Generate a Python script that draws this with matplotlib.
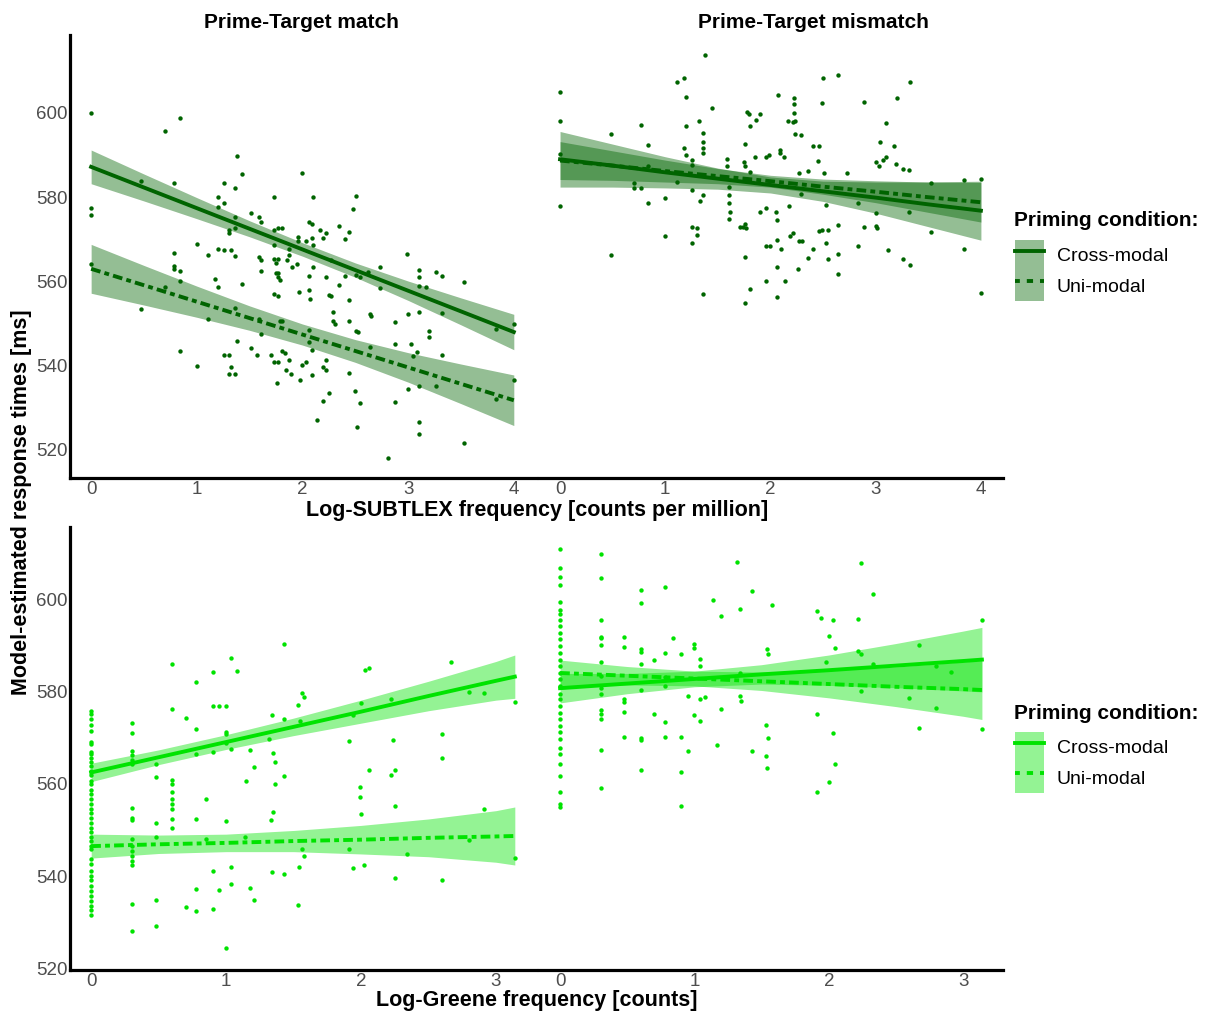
import matplotlib.pyplot as plt
from matplotlib.lines import Line2D
from matplotlib.patches import Patch

plt.rcParams["font.family"] = ["Liberation Sans", "DejaVu Sans"]
plt.rcParams["lines.scale_dashes"] = False

# ---- data ---------------------------------------------------------------
conditions = ["Cross-modal", "Uni-modal"]
titles = ["Prime-Target match", "Prime-Target mismatch"]

# SUBTLEX, prime-target match: (log freq, RT)
subtlex_match_pts = [
    (0, 600), (0, 577.5), (0, 575.7), (0, 564.2), (0.47, 583.8), (0.70, 595.6), (0.84, 598.9),
    (0.78, 583.3), (0.78, 566.8), (0.78, 563.6), (0.78, 562.9), (0.84, 562.4), (0.84, 560.2),
    (0.70, 558.8), (0.47, 553.5), (0.84, 543.4), (1.0, 569.0), (1.0, 540.0), (1.11, 566.2),
    (1.11, 551.0), (1.17, 560.6), (1.20, 558.8), (1.20, 580.0), (1.20, 577.7), (1.20, 567.8),
    (1.26, 583.3), (1.26, 578.6), (1.26, 567.4), (1.26, 542.6), (1.30, 542.6), (1.30, 572.1),
    (1.30, 571.6), (1.32, 567.4), (1.30, 538.0), (1.36, 538.0), (1.32, 539.7), (1.38, 589.8),
    (1.36, 582.2), (1.36, 575.3), (1.36, 572.7), (1.36, 566.1), (1.36, 553.8), (1.38, 545.8),
    (1.43, 585.6), (1.43, 559.3), (1.51, 576.2), (1.51, 544.2), (1.57, 542.6), (1.59, 575.4),
    (1.61, 574.1), (1.59, 565.7), (1.61, 565.2), (1.59, 551.0), (1.61, 547.5), (1.61, 562.6),
    (1.70, 542.6), (1.73, 580.0), (1.73, 572.1), (1.73, 568.6), (1.73, 565.4), (1.75, 564.5),
    (1.77, 565.4), (1.73, 557.0), (1.77, 556.6), (1.73, 541.0), (1.77, 541.0), (1.75, 562.0),
    (1.77, 562.0), (1.77, 561.0), (1.79, 560.4), (1.77, 572.7), (1.81, 572.7), (1.79, 550.7),
    (1.81, 550.7), (1.81, 543.4), (1.83, 543.1), (1.76, 535.8), (1.84, 539.0), (1.87, 541.4),
    (1.85, 565.1), (1.87, 566.2), (1.87, 567.8), (1.89, 538.1), (1.90, 563.4), (1.95, 564.2),
    (1.96, 570.5), (1.96, 569.6), (1.97, 557.5), (1.98, 536.6), (2.0, 585.8), (2.0, 540.2),
    (2.03, 540.8), (2.03, 569.7), (2.06, 574.1), (2.06, 561.2), (2.06, 557.9), (2.07, 555.9),
    (2.06, 548.4), (2.06, 545.7), (2.09, 573.7), (2.09, 570.4), (2.10, 568.6), (2.10, 580.0),
    (2.10, 563.4), (2.09, 543.8), (2.09, 537.7), (2.14, 527.2), (2.17, 572.3), (2.19, 570.3),
    (2.22, 571.6), (2.22, 561.0), (2.22, 541.4), (2.22, 539.0), (2.19, 539.6), (2.19, 531.7),
    (2.25, 556.9), (2.25, 533.5), (2.27, 556.5), (2.29, 552.7), (2.29, 550.7), (2.31, 550.0),
    (2.27, 565.0), (2.35, 573.2), (2.35, 559.2), (2.40, 570.0), (2.40, 561.2), (2.44, 571.7),
    (2.44, 555.5), (2.44, 550.7), (2.44, 538.2), (2.48, 577.3), (2.51, 580.4), (2.51, 561.5),
    (2.54, 561.1), (2.51, 548.3), (2.53, 547.9), (2.50, 534.1), (2.54, 531.1), (2.52, 525.4),
    (2.62, 562.2), (2.64, 552.3), (2.65, 551.9), (2.64, 544.4), (2.73, 563.4), (2.73, 558.5),
    (2.81, 518.1), (2.88, 550.3), (2.88, 545.2), (2.88, 531.3), (2.99, 566.6), (3.0, 552.3),
    (3.03, 545.2), (3.0, 534.4), (3.05, 542.4), (3.08, 543.2), (3.10, 562.8), (3.10, 561.0),
    (3.10, 559.0), (3.10, 552.7), (3.10, 535.3), (3.10, 526.6), (3.10, 523.8), (3.17, 558.8),
    (3.20, 548.3), (3.20, 546.7), (3.26, 562.2), (3.26, 535.3), (3.32, 561.4), (3.32, 552.5),
    (3.32, 542.6), (3.53, 559.8), (3.53, 521.7), (3.83, 548.8), (3.83, 532.1), (4.0, 549.8),
    (4.0, 536.6),
]

# SUBTLEX, prime-target mismatch
subtlex_mismatch_pts = [
    (0, 604.9), (0, 598.1), (0, 590.2), (0, 577.8), (0.48, 594.9), (0.48, 566.3), (0.77, 597.2),
    (0.70, 583.3), (0.70, 582.1), (0.77, 582.3), (0.84, 592.4), (0.84, 587.3), (0.84, 578.7),
    (1.0, 579.9), (1.0, 570.7), (1.11, 607.4), (1.18, 608.2), (1.20, 603.7), (1.18, 591.6),
    (1.20, 590.0), (1.25, 588.8), (1.25, 587.7), (1.11, 583.7), (1.20, 597.0), (1.25, 581.7),
    (1.25, 573.0), (1.25, 569.2), (1.30, 572.8), (1.30, 571.0), (1.32, 598.2), (1.33, 579.0),
    (1.36, 595.3), (1.36, 593.2), (1.36, 591.6), (1.36, 590.4), (1.36, 580.5), (1.36, 557.0),
    (1.38, 613.8), (1.44, 601.1), (1.59, 589.0), (1.59, 587.4), (1.61, 582.5), (1.61, 580.5),
    (1.61, 578.6), (1.62, 576.6), (1.61, 574.9), (1.71, 573.0), (1.74, 573.0), (1.76, 573.6),
    (1.77, 572.6), (1.75, 588.3), (1.76, 587.5), (1.76, 592.6), (1.76, 565.7), (1.76, 555.0),
    (1.78, 600.3), (1.80, 599.7), (1.81, 585.9), (1.81, 558.1), (1.81, 596.8), (1.85, 589.6),
    (1.86, 598.3), (1.90, 599.7), (1.90, 576.4), (1.96, 589.6), (1.99, 590.0), (1.96, 577.5),
    (1.96, 568.4), (2.0, 568.3), (1.96, 560.1), (2.05, 576.4), (2.06, 574.6), (2.06, 563.5),
    (2.06, 556.2), (2.06, 569.9), (2.07, 604.3), (2.09, 591.2), (2.09, 590.6), (2.10, 567.6),
    (2.13, 589.6), (2.14, 560.1), (2.17, 598.2), (2.21, 597.9), (2.18, 578.0), (2.22, 603.5),
    (2.22, 602.1), (2.22, 599.9), (2.23, 598.0), (2.23, 594.9), (2.29, 594.8), (2.21, 571.4),
    (2.19, 570.8), (2.27, 569.7), (2.30, 569.7), (2.26, 562.9), (2.27, 585.7), (2.29, 580.7),
    (2.36, 586.3), (2.36, 565.5), (2.40, 592.2), (2.46, 592.2), (2.40, 567.6), (2.45, 588.5),
    (2.46, 572.0), (2.49, 572.2), (2.55, 572.3), (2.49, 602.3), (2.50, 608.2), (2.51, 585.7),
    (2.53, 578.2), (2.53, 569.1), (2.55, 565.3), (2.64, 609.0), (2.64, 573.3), (2.64, 566.5),
    (2.64, 561.8), (2.73, 585.8), (2.83, 578.7), (2.83, 568.3), (2.89, 602.7), (2.89, 573.0),
    (3.0, 588.4), (3.03, 587.5), (3.07, 588.8), (3.0, 576.2), (3.0, 573.2), (3.01, 572.8),
    (3.04, 593.2), (3.10, 597.5), (3.10, 589.6), (3.12, 567.5), (3.17, 592.2), (3.19, 587.9),
    (3.20, 603.6), (3.26, 586.7), (3.32, 586.5), (3.26, 565.3), (3.32, 576.6), (3.33, 563.8),
    (3.33, 607.4), (3.53, 583.3), (3.53, 571.7), (3.84, 584.1), (3.84, 567.6), (4.0, 584.3),
    (4.0, 557.2),
]

# Greene, prime-target match: stacked columns at log10(1..4) plus loose points
greene_match_cols = {
    0.0: [575.8, 575.1, 574.0, 572.9, 571.6, 569.2, 568.7, 566.9, 566.4, 565.6, 564.7, 563.8,
          562.9, 561.9, 560.7, 560.0, 558.7, 557.8, 556.7, 555.6, 554.5, 553.8, 552.7, 551.6,
          550.5, 549.5, 548.5, 547.6, 546.5, 545.8, 543.6, 542.7, 541.1, 540.0, 539.1, 537.8,
          536.7, 535.6, 534.5, 533.5, 532.7, 531.6],
    0.301: [573.2, 571.1, 567.1, 566.2, 565.1, 564.4, 554.7, 552.7, 552.1, 548.0, 546.5, 545.5,
            544.4, 543.3, 542.5, 534.0, 528.0],
    0.477: [564.4, 561.5, 551.6, 548.4, 534.9, 529.2],
    0.602: [586.0, 576.2, 560.9, 560.0, 558.3, 556.7, 555.6, 554.5, 552.4, 550.5],
}
greene_match_pts = [
    (0.70, 574.4), (0.70, 533.3), (0.78, 582.2), (0.78, 572.0), (0.78, 566.4), (0.78, 552.4),
    (0.78, 537.1), (0.78, 532.4), (0.85, 556.7), (0.85, 548.0), (0.90, 584.4), (0.90, 577.0),
    (0.90, 566.9), (0.90, 541.0), (0.90, 532.9), (0.95, 577.0), (0.95, 536.9), (1.0, 577.0),
    (1.0, 571.3), (1.0, 570.8), (1.0, 568.9), (1.0, 552.0), (1.0, 524.4), (1.04, 587.3),
    (1.04, 567.5), (1.04, 542.0), (1.04, 538.2), (1.08, 584.5), (1.15, 560.7), (1.14, 548.4),
    (1.18, 567.3), (1.18, 537.3), (1.21, 563.6), (1.21, 534.8), (1.32, 569.8), (1.34, 574.9),
    (1.35, 566.7), (1.36, 564.7), (1.36, 559.9), (1.33, 552.1), (1.35, 554.0), (1.34, 540.9),
    (1.43, 590.3), (1.43, 574.2), (1.43, 561.7), (1.43, 540.5), (1.53, 577.2), (1.55, 573.6),
    (1.56, 579.8), (1.58, 578.9), (1.56, 545.8), (1.58, 544.4), (1.54, 542.0), (1.53, 533.7),
    (1.91, 569.4), (1.94, 574.9), (1.99, 559.4), (1.99, 557.1), (2.0, 577.5), (2.0, 553.5),
    (1.91, 545.8), (1.94, 541.7), (2.02, 542.5), (2.03, 584.7), (2.06, 585.2), (2.06, 563.1),
    (2.22, 578.5), (2.24, 569.5), (2.22, 562.0), (2.25, 563.1), (2.25, 555.3), (2.25, 539.5),
    (2.34, 544.7), (2.60, 570.9), (2.60, 565.6), (2.60, 539.1), (2.67, 586.5), (2.80, 580.0),
    (2.80, 547.9), (2.91, 579.8), (2.91, 554.5), (3.14, 577.7), (3.14, 544.0),
]

# Greene, prime-target mismatch
greene_mismatch_cols = {
    0.0: [611.0, 606.8, 605.0, 603.2, 599.6, 597.8, 596.8, 595.7, 594.2, 592.8, 591.4, 590.0,
          588.5, 587.0, 585.6, 584.1, 582.7, 581.3, 579.5, 578.4, 576.9, 575.5, 574.1, 572.6,
          571.2, 569.7, 567.9, 566.5, 564.3, 561.8, 558.2, 555.7, 555.0],
    0.301: [609.9, 604.7, 595.5, 591.9, 591.7, 590.1, 586.5, 583.4, 580.9, 579.5, 576.1, 575.3,
            574.1, 567.4, 559.1],
    0.477: [591.9, 589.7, 578.4, 577.8, 575.6, 570.2],
    0.602: [602.2, 599.3, 589.4, 588.7, 586.1, 580.5, 569.9, 569.6, 563.0],
}
greene_mismatch_pts = [
    (0.70, 587.0), (0.70, 575.1), (0.78, 602.7), (0.78, 588.5), (0.78, 583.3), (0.78, 581.3),
    (0.78, 573.5), (0.78, 570.1), (0.84, 591.7), (0.90, 588.3), (0.90, 570.1), (0.90, 562.7),
    (0.90, 555.3), (0.95, 579.1), (0.95, 567.1), (1.0, 590.5), (1.0, 589.5), (1.0, 574.9),
    (1.04, 587.2), (1.04, 585.7), (1.04, 578.5), (1.04, 573.7), (1.08, 578.9), (1.14, 600.0),
    (1.17, 568.4), (1.20, 596.4), (1.20, 576.2), (1.32, 608.1), (1.34, 598.1), (1.34, 584.1),
    (1.34, 579.1), (1.35, 578.0), (1.43, 602.0), (1.43, 567.1), (1.54, 589.3), (1.55, 588.3),
    (1.53, 572.8), (1.55, 569.9), (1.53, 566.1), (1.54, 563.4), (1.58, 598.8), (1.91, 597.6),
    (1.94, 596.0), (1.91, 575.1), (1.91, 558.2), (1.98, 586.5), (2.0, 592.2), (2.03, 595.5),
    (2.03, 571.0), (2.0, 560.5), (2.05, 589.5), (2.05, 564.3), (2.22, 595.8), (2.22, 588.8),
    (2.24, 588.3), (2.24, 607.9), (2.24, 580.2), (2.33, 601.2), (2.33, 586.0), (2.60, 578.7),
    (2.67, 590.1), (2.67, 572.1), (2.80, 576.6), (2.80, 585.7), (2.91, 584.3), (3.14, 595.5),
    (3.14, 572.0),
]

# fitted lines and confidence half-widths
subtlex_fit_x = [0, 0.5, 1, 1.5, 2, 2.5, 3, 3.5, 4]
greene_fit_x = [0, 0.5, 1, 1.5, 2, 2.5, 3, 3.14]

subtlex_match_fit = {
    "Cross-modal": ([587.2, 582.3, 577.4, 572.5, 567.6, 562.7, 557.8, 552.9, 548.0],
                    [4.0, 3.2, 2.5, 1.9, 1.6, 1.7, 2.3, 3.2, 4.2]),
    "Uni-modal": ([563.0, 559.1, 555.2, 551.3, 547.4, 543.5, 539.6, 535.7, 531.8],
                  [5.8, 4.7, 3.7, 2.9, 2.5, 2.7, 3.5, 4.7, 6.0]),
}
subtlex_mismatch_fit = {
    "Cross-modal": ([589.0, 587.5, 585.9, 584.4, 582.9, 581.4, 579.9, 578.3, 576.8],
                    [6.6, 5.1, 3.7, 2.5, 1.9, 2.4, 3.7, 5.3, 7.0]),
    "Uni-modal": ([588.7, 587.5, 586.2, 585.0, 583.8, 582.5, 581.3, 580.0, 578.8],
                  [4.5, 3.5, 2.6, 1.8, 1.4, 1.8, 2.6, 3.6, 4.7]),
}
greene_match_fit = {
    "Cross-modal": ([562.5, 565.8, 569.1, 572.4, 575.7, 579.1, 582.4, 583.3],
                    [2.0, 1.6, 1.6, 1.9, 2.5, 3.2, 4.2, 4.7]),
    "Uni-modal": ([546.5, 546.9, 547.2, 547.6, 547.9, 548.3, 548.6, 548.7],
                  [2.6, 2.0, 1.9, 2.3, 3.1, 4.1, 5.6, 6.3]),
}
greene_mismatch_fit = {
    "Cross-modal": ([580.8, 581.8, 582.8, 583.8, 584.7, 585.7, 586.7, 587.0],
                    [3.2, 2.2, 1.7, 2.1, 3.3, 4.8, 6.5, 7.0]),
    "Uni-modal": ([584.1, 583.5, 582.9, 582.3, 581.7, 581.1, 580.6, 580.4],
                  [2.8, 2.0, 1.6, 2.0, 3.0, 4.3, 5.9, 6.4]),
}

# ---- styling ---------------------------------------------------------------
DARK = "#006400"
BRIGHT = "#00E300"
RIBBON_ALPHA = 0.42
LINESTYLES = {"Cross-modal": "-", "Uni-modal": (0, (7, 3, 3.5, 3))}
LEGEND_STYLES = {"Cross-modal": "-", "Uni-modal": (1, (4.5, 5))}
LW = 2.8

W, H = 1219, 1013
fig = plt.figure(figsize=(W / 100, H / 100), dpi=100)


def box(l, t, r, b):
    return [l / W, 1 - b / H, (r - l) / W, (b - t) / H]


def flatten(cols, pts):
    xs, ys = [], []
    for x, col in cols.items():
        xs += [x] * len(col)
        ys += col
    xs += [p[0] for p in pts]
    ys += [p[1] for p in pts]
    return xs, ys


def panel(ax, xs, ys, fit_x, fits, color, xlim, ylim, xticks, left):
    ax.scatter(xs, ys, s=10, color=color, linewidths=0, zorder=2)
    for cond in conditions:
        fy, hw = fits[cond]
        lo = [f - h for f, h in zip(fy, hw)]
        hi = [f + h for f, h in zip(fy, hw)]
        ax.fill_between(fit_x, lo, hi, color=color, alpha=RIBBON_ALPHA, linewidth=0, zorder=3)
        ax.plot(fit_x, fy, color=color, lw=LW, ls=LINESTYLES[cond], zorder=4)
    ax.set_xlim(*xlim)
    ax.set_ylim(*ylim)
    ax.set_xticks(xticks)
    ax.set_yticks([520, 540, 560, 580, 600])
    ax.tick_params(length=0, labelsize=13.5, labelcolor="#4D4D4D", pad=2)
    for s in ("top", "right"):
        ax.spines[s].set_visible(False)
    ax.spines["bottom"].set_linewidth(2.3)
    ax.spines["left"].set_linewidth(2.3)
    if not left:
        ax.spines["left"].set_visible(False)
        ax.tick_params(labelleft=False)
    ax.patch.set_visible(False)


top_xlim, top_ylim = (-0.2, 4.21), (513.35, 618.5)
bot_xlim, bot_ylim = (-0.157, 3.297), (519.6, 615.8)

ax_tl = fig.add_axes(box(70, 35, 536, 478))
ax_tr = fig.add_axes(box(539, 35, 1003, 478))
ax_bl = fig.add_axes(box(70, 527, 536, 970))
ax_br = fig.add_axes(box(539, 527, 1003, 970))

panel(ax_tl, *flatten({}, subtlex_match_pts), subtlex_fit_x, subtlex_match_fit, DARK,
      top_xlim, top_ylim, [0, 1, 2, 3, 4], True)
panel(ax_tr, *flatten({}, subtlex_mismatch_pts), subtlex_fit_x, subtlex_mismatch_fit, DARK,
      top_xlim, top_ylim, [0, 1, 2, 3, 4], False)
panel(ax_bl, *flatten(greene_match_cols, greene_match_pts), greene_fit_x, greene_match_fit, BRIGHT,
      bot_xlim, bot_ylim, [0, 1, 2, 3], True)
panel(ax_br, *flatten(greene_mismatch_cols, greene_mismatch_pts), greene_fit_x, greene_mismatch_fit,
      BRIGHT, bot_xlim, bot_ylim, [0, 1, 2, 3], False)

# facet titles and axis labels
fig.text(301 / W, 1 - 23 / H, titles[0], ha="center", va="center", fontsize=15, fontweight="bold")
fig.text(813 / W, 1 - 23 / H, titles[1], ha="center", va="center", fontsize=15, fontweight="bold")
fig.text(537 / W, 1 - 510 / H, "Log-SUBTLEX frequency [counts per million]", ha="center",
         va="center", fontsize=15.5, fontweight="bold")
fig.text(537 / W, 1 - 1000 / H, "Log-Greene frequency [counts]", ha="center", va="center",
         fontsize=15.5, fontweight="bold")
fig.text(22 / W, 1 - 502 / H, "Model-estimated response times [ms]", ha="center", va="center",
         rotation=90, fontsize=15.5, fontweight="bold")

# legends: title as text, keys as a ribbon patch with the line on top
for ax, color, title_y in ((ax_tr, DARK, 221), (ax_br, BRIGHT, 713)):
    fig.text(1014 / W, 1 - title_y / H, "Priming condition:", ha="left", va="center",
             fontsize=15, fontweight="bold")
    handles = [(Patch(facecolor=color, alpha=RIBBON_ALPHA, edgecolor="none"),
                Line2D([], [], color=color, lw=LW, ls=LEGEND_STYLES[c])) for c in conditions]
    ax.legend(handles, conditions, loc="upper left",
              bbox_to_anchor=(1015 / W, 1 - (title_y + 19) / H), bbox_transform=fig.transFigure,
              frameon=False, borderpad=0, borderaxespad=0, labelspacing=0,
              handlelength=1.5, handleheight=2.05, handletextpad=0.65, fontsize=14)

fig.savefig("out.png", dpi=100)
